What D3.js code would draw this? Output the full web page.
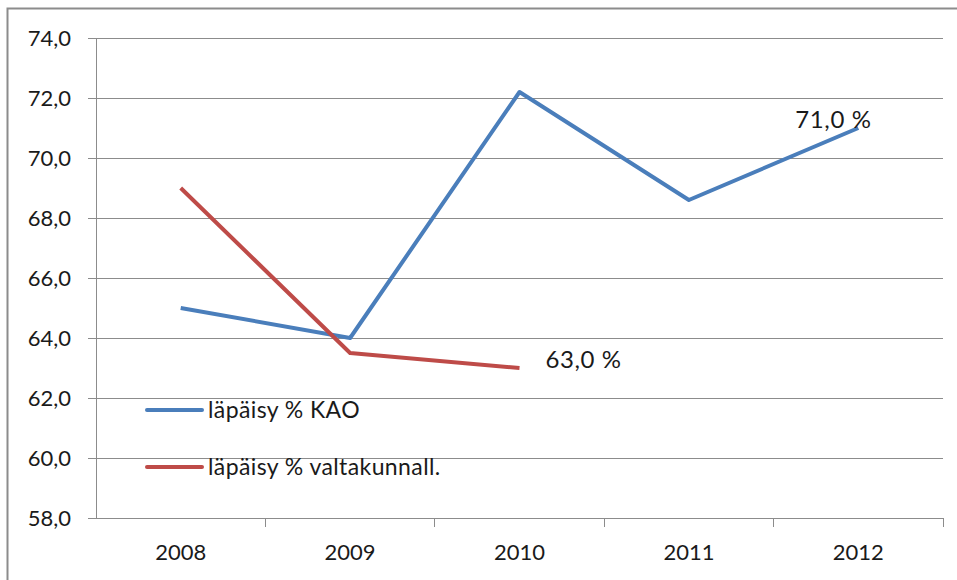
<!DOCTYPE html>
<html lang="fi">
<head>
<meta charset="UTF-8">
<title>läpäisy %</title>
<script src="https://d3js.org/d3.v7.min.js"></script>
<style>
  body { margin: 0; padding: 0; background: #fff; overflow: hidden; }
  text { font-family: Lato, "Open Sans", sans-serif; fill: #1a1a1a; }
  .grid line { stroke: #8c8c8c; stroke-width: 1; shape-rendering: crispEdges; }
  .axis path, .axis line { stroke: #8c8c8c; shape-rendering: crispEdges; }
</style>
</head>
<body>
<svg id="chart" width="957" height="580"></svg>
<script>
// Chart data
const years = ["2008", "2009", "2010", "2011", "2012"];
const kao = [65.0, 64.0, 72.2, 68.6, 71.0];
const valtakunnall = [69.0, 63.5, 63.0, null, null];
const yTicks = [58, 60, 62, 64, 66, 68, 70, 72, 74];
const seriesNames = ["läpäisy % KAO", "läpäisy % valtakunnall."];
const colors = ["#4a7ebb", "#be4b48"];

const fmt = d => d3.format(".1f")(d).replace(".", ",");

const svg = d3.select("#chart");
const margin = { top: 38, right: 14, bottom: 62, left: 96 };
const width = 957 - margin.left - margin.right,
      height = 580 - margin.top - margin.bottom;

// outer frame
svg.append("rect")
  .attr("x", 7.5).attr("y", 8.5)
  .attr("width", 960).attr("height", 580)
  .attr("fill", "none").attr("stroke", "#8c8c8c").attr("stroke-width", 2);

const g = svg.append("g").attr("transform", `translate(${margin.left},${margin.top})`);

const x = d3.scaleBand().domain(years).range([0, width]);
const y = d3.scaleLinear().domain([58, 74]).range([height, 0]);

// horizontal gridlines
g.append("g").attr("class", "grid")
  .selectAll("line").data(yTicks.slice(1)).join("line")
  .attr("x1", 0).attr("x2", width)
  .attr("y1", d => y(d)).attr("y2", d => y(d));

// y axis
const yAxis = g.append("g").attr("class", "axis")
  .call(d3.axisLeft(y).tickValues(yTicks).tickSize(8).tickPadding(17).tickFormat(fmt));
yAxis.select(".domain").attr("d", `M0,${height}V0`);
yAxis.selectAll("text").style("font-size", "22px").attr("dy", "0.36em");

// x axis with ticks at band boundaries
const xAxis = g.append("g").attr("class", "axis")
  .attr("transform", `translate(0,${height})`)
  .call(d3.axisBottom(x).tickSize(0).tickPadding(26));
xAxis.select(".domain").attr("d", `M0,0H${width}`);
xAxis.selectAll("text").style("font-size", "22px");
g.append("g").attr("class", "axis")
  .selectAll("line").data(years.slice(1).concat(["end"])).join("line")
  .attr("x1", d => d === "end" ? width : x(d))
  .attr("x2", d => d === "end" ? width : x(d))
  .attr("y1", height).attr("y2", height + 9);

// lines
const line = d3.line()
  .defined(d => d[1] != null)
  .x(d => x(d[0]) + x.bandwidth() / 2)
  .y(d => y(d[1]));

[kao, valtakunnall].forEach((vals, i) => {
  g.append("path")
    .datum(years.map((yr, j) => [yr, vals[j]]))
    .attr("fill", "none")
    .attr("stroke", colors[i])
    .attr("stroke-width", 4)
    .attr("stroke-linejoin", "round")
    .attr("d", line);
});

// data labels
g.append("text")
  .attr("x", x("2010") + x.bandwidth() / 2 + 26)
  .attr("y", y(valtakunnall[2]))
  .style("font-size", "24px").style("letter-spacing", "0.6px")
  .text(fmt(valtakunnall[2]) + " %");
g.append("text")
  .attr("x", x("2012") + x.bandwidth() / 2 - 63)
  .attr("y", y(kao[4]))
  .style("font-size", "24px").style("letter-spacing", "0.6px")
  .text(fmt(kao[4]) + " %");

// legend
const legend = g.append("g").attr("transform", "translate(51,372)");
seriesNames.forEach((name, i) => {
  const row = legend.append("g").attr("transform", `translate(0,${i * 57})`);
  row.append("line").attr("x1", 0).attr("x2", 55)
    .attr("stroke", colors[i]).attr("stroke-width", 4).attr("stroke-linecap", "round");
  row.append("text").attr("x", 61).attr("dy", "0.35em")
    .style("font-size", "23px").style("letter-spacing", "0.4px").text(name);
});
</script>
</body>
</html>
